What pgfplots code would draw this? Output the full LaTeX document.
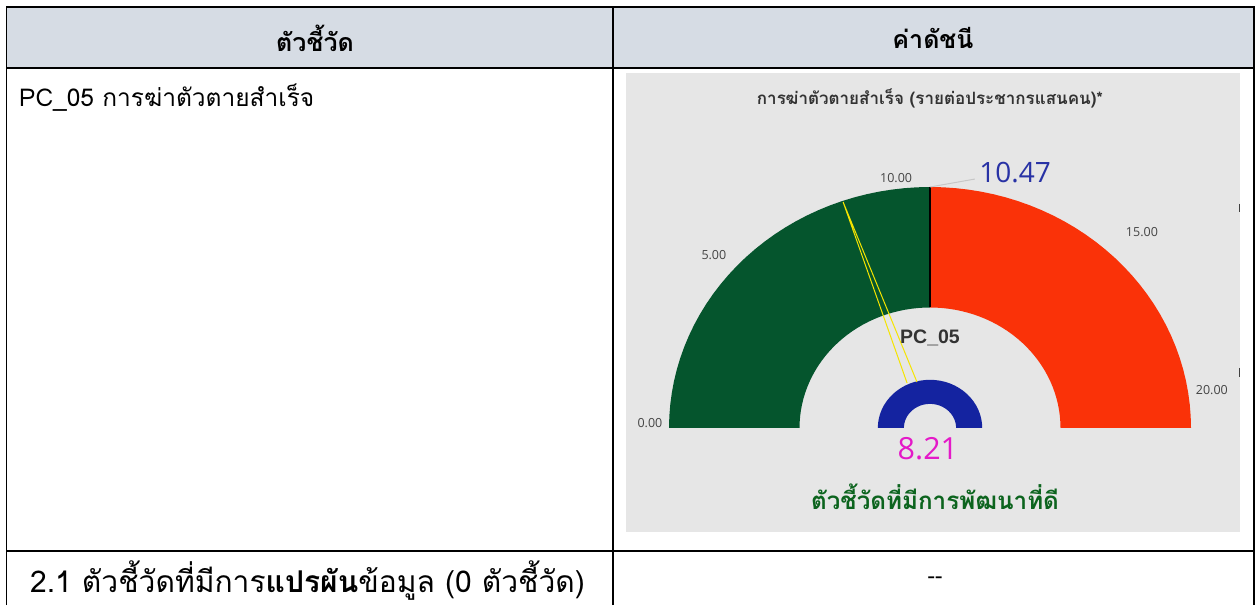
\documentclass[border=0pt]{standalone}
\usepackage{pgfplots}
\pgfplotsset{compat=1.18}
\usepackage{fontspec}
\setmainfont[Script=Thai]{Loma}
\newfontfamily\numfont{Open Sans}
\newfontfamily\lsans{Liberation Sans}
\definecolor{headbg}{RGB}{214,220,228}
\definecolor{panel}{RGB}{230,230,230}
\definecolor{gGreen}{RGB}{5,85,45}
\definecolor{gRed}{RGB}{250,50,8}
\definecolor{gBlue}{RGB}{20,35,160}
\definecolor{valBlue}{RGB}{40,50,165}
\definecolor{valMag}{RGB}{228,25,200}
\definecolor{txtGreen}{RGB}{12,100,30}
\definecolor{tickc}{RGB}{68,68,68}
\definecolor{needle}{RGB}{245,228,0}
\begin{document}
\begin{tikzpicture}[x=1pt,y=1pt]
\useasboundingbox (0,0) rectangle (1257,605);
\fill[white] (0,0) rectangle (1257,605);
% header
\fill[headbg] (6.5,597.7) rectangle (1254,537.3);
% chart panel
\fill[panel] (626,532.3) rectangle (1240,73.3);
\draw[black!75, line width=0.8pt] (1239.5,401) -- (1239.5,393);
\draw[black!75, line width=0.8pt] (1239.5,237) -- (1239.5,228);
% table lines
\draw[line width=1.6pt] (6.5,0) -- (6.5,597.7) -- (1254,597.7) -- (1254,0);
\draw[line width=2pt] (6.5,537.3) -- (1254,537.3);
\draw[line width=2pt] (6.5,54) -- (1254,54);
\draw[line width=2pt] (612.7,0) -- (612.7,597.7);
% table texts
\node at (315,567) {\fontsize{25}{29}\selectfont\bfseries ตัวชี้วัด};
\node at (933,567) {\fontsize{25}{29}\selectfont\bfseries ค่าดัชนี};
\node[anchor=west, inner sep=0pt] at (19,507) {\fontsize{24.5}{28}\selectfont PC\_05 การฆ่าตัวตายสำเร็จ};
\node[anchor=west, inner sep=0pt] at (30,24) {\fontsize{30}{34}\selectfont 2.1 ตัวชี้วัดที่มีการ\textbf{แปรผัน}ข้อมูล (0 ตัวชี้วัด)};
\node at (935,25) {\fontsize{22}{26}\selectfont -{}-};
% panel title and status
\node[text=black!80] at (930,507) {\fontsize{17}{20}\selectfont\bfseries การฆ่าตัวตายสำเร็จ (รายต่อประชากรแสนคน)*};
\node[text=txtGreen] at (935,108) {\fontsize{24.2}{28}\selectfont\bfseries ตัวชี้วัดที่มีการพัฒนาที่ดี};
% gauge
\begin{axis}[at={(669pt,177pt)}, anchor=south west, x=261pt, y=241pt,
  xmin=-1, xmax=1, ymin=0, ymax=1, hide axis, clip=false]
% green band 0-10
\addplot[draw=none, fill=gGreen, samples at={0,0.03125,...,1,1.5,1.53125,...,2.5}, variable=\s]
 ({ifthenelse(\s<1.25,1,0.5)*cos(180-9*ifthenelse(\s<1.25,10*\s,10*(2.5-\s)))},
  {ifthenelse(\s<1.25,1,0.5)*sin(180-9*ifthenelse(\s<1.25,10*\s,10*(2.5-\s)))});
% red band 10-20
\addplot[draw=none, fill=gRed, samples at={0,0.03125,...,1,1.5,1.53125,...,2.5}, variable=\s]
 ({ifthenelse(\s<1.25,1,0.5)*cos(180-9*ifthenelse(\s<1.25,10+10*\s,10+10*(2.5-\s)))},
  {ifthenelse(\s<1.25,1,0.5)*sin(180-9*ifthenelse(\s<1.25,10+10*\s,10+10*(2.5-\s)))});
% blue inner ring 0-20
\addplot[draw=none, fill=gBlue, samples at={0,0.03125,...,1,1.5,1.53125,...,2.5}, variable=\s]
 ({ifthenelse(\s<1.25,0.2,0.1)*cos(180-9*ifthenelse(\s<1.25,20*\s,20*(2.5-\s)))},
  {ifthenelse(\s<1.25,0.2,0.1)*sin(180-9*ifthenelse(\s<1.25,20*\s,20*(2.5-\s)))});
% boundary at 10
\addplot[black, line width=1.3pt] coordinates {(0,0.5) (0,1)};
% needle (value 8.21)
\addplot[needle, line width=1pt] coordinates {(-0.088,0.187) (-0.333,0.938) (-0.050,0.191)};
% target leader (10.47)
\addplot[black!22, line width=1pt] coordinates {(0,1.0) (0.172,1.033)};
% tick labels
\node[text=tickc] at (axis cs:-1.073,0.021) {\numfont\fontsize{12.5}{14}\selectfont 0.00};
\node[text=tickc] at (axis cs:-0.828,0.718) {\numfont\fontsize{12.5}{14}\selectfont 5.00};
\node[text=tickc] at (axis cs:-0.130,1.037) {\numfont\fontsize{12.5}{14}\selectfont 10.00};
\node[text=tickc] at (axis cs:0.812,0.813) {\numfont\fontsize{12.5}{14}\selectfont 15.00};
\node[text=tickc] at (axis cs:1.080,0.158) {\numfont\fontsize{12.5}{14}\selectfont 20.00};
% values
\node[text=valBlue] at (axis cs:0.326,1.062) {\numfont\fontsize{28}{32}\selectfont 10.47};
\node[text=valMag] at (axis cs:-0.008,-0.087) {\numfont\fontsize{30.5}{34}\selectfont 8.21};
\node[text=black!80] at (axis cs:0,0.373) {\lsans\fontsize{19.5}{23}\selectfont\bfseries PC\_05};
\end{axis}
\end{tikzpicture}
\end{document}
